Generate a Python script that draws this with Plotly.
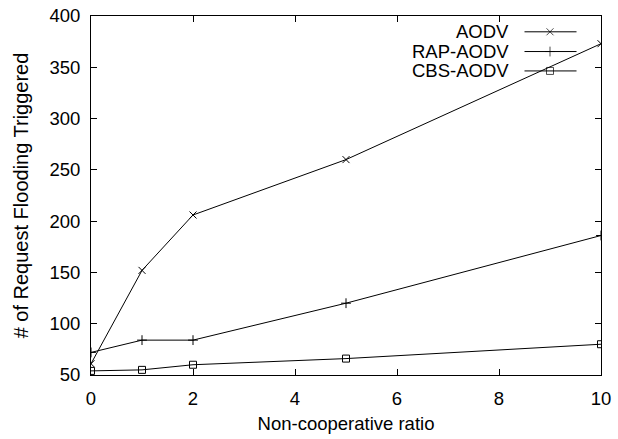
import plotly.graph_objects as go

x_vals = [0, 1, 2, 5, 10]
aodv = [61, 152, 206, 260, 373]
rap_aodv = [72, 84, 84, 120, 186]
cbs_aodv = [54, 55, 60, 66, 80]

series_names = ["AODV", "RAP-AODV", "CBS-AODV"]
series_symbols = ["x-thin-open", "cross-thin-open", "square-open"]
series_data = [aodv, rap_aodv, cbs_aodv]

x_ticks = [0, 2, 4, 6, 8, 10]
y_ticks = [50, 100, 150, 200, 250, 300, 350, 400]

FONT = "Liberation Sans, Arial, sans-serif"

fig = go.Figure()
for name, sym, ys in zip(series_names, series_symbols, series_data):
    fig.add_trace(go.Scatter(
        x=x_vals, y=ys, mode="lines+markers", name=name, showlegend=False,
        line=dict(color="black", width=1),
        marker=dict(symbol=sym, size=7, color="black", line=dict(color="black", width=1)),
    ))

# gnuplot-style legend: text on the left, sample on the right (overlay axes in [0,1])
leg_y = [0.956, 0.901, 0.847]
for name, sym, ly in zip(series_names, series_symbols, leg_y):
    fig.add_trace(go.Scatter(
        x=[0.850, 0.9, 0.952], y=[ly, ly, ly], xaxis="x2", yaxis="y2",
        mode="lines+markers", showlegend=False, hoverinfo="skip",
        line=dict(color="black", width=1),
        marker=dict(symbol=sym, size=[0, 7, 0], color="black", line=dict(color="black", width=1)),
    ))
    fig.add_annotation(x=0.823, y=ly, xref="x2", yref="y2", text=name, showarrow=False,
                       xanchor="right", yanchor="middle",
                       font=dict(family=FONT, size=18.5, color="black"))

axis_common = dict(
    showline=True, linecolor="black", linewidth=1, mirror="ticks",
    ticks="inside", ticklen=6, tickcolor="black", tickwidth=1,
    showgrid=False, zeroline=False, automargin=False,
    tickfont=dict(family=FONT, size=18.5, color="black"),
)

fig.update_layout(
    width=618, height=439,
    margin=dict(l=91, r=17, t=16, b=64),
    paper_bgcolor="white", plot_bgcolor="white",
    showlegend=False,
    xaxis=dict(range=[0, 10], tickvals=x_ticks, ticklabelstandoff=7,
               title=dict(text="Non-cooperative ratio", font=dict(family=FONT, size=18.5, color="black"), standoff=8),
               **axis_common),
    yaxis=dict(range=[50, 400], tickvals=y_ticks, ticklabelstandoff=6,
               title=dict(text="# of Request Flooding Triggered", font=dict(family=FONT, size=20, color="black"), standoff=15),
               **axis_common),
    xaxis2=dict(range=[0, 1], overlaying="x", visible=False, anchor="y2"),
    yaxis2=dict(range=[0, 1], overlaying="y", visible=False, anchor="x2"),
)

fig.write_html("out.html")
